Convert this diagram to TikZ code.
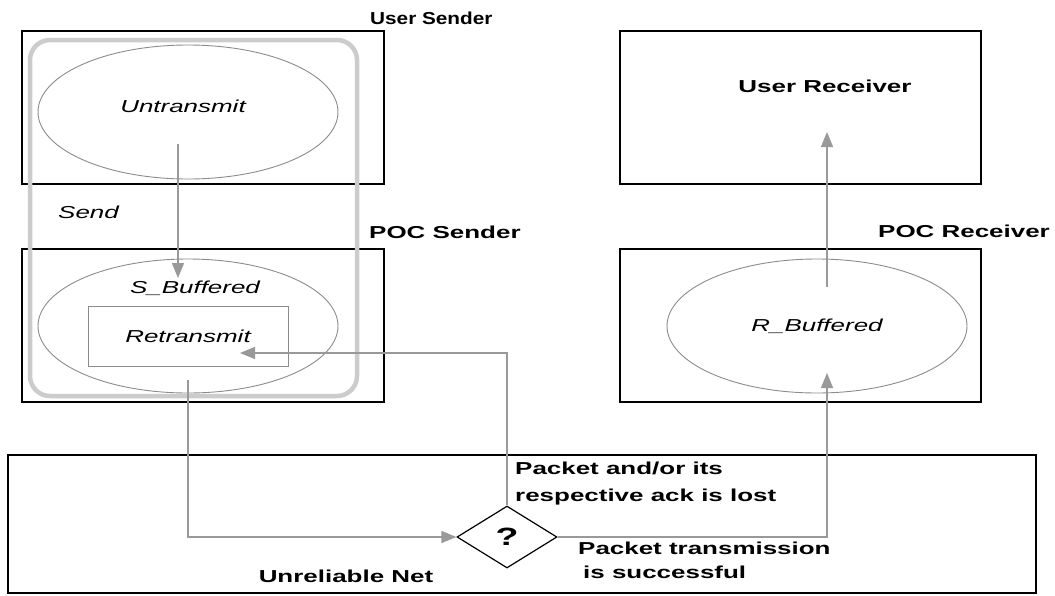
\documentclass[tikz,border=0pt]{standalone}
\usepackage{fontspec}
\setmainfont{Liberation Sans}[FakeStretch=1.5]
\newfontfamily\narrowsans{Liberation Sans}[FakeStretch=1.2]
\usepackage{tikz}
\usetikzlibrary{arrows.meta,shapes.geometric,calc}
\definecolor{edgegray}{gray}{0.55}
\definecolor{flowgray}{gray}{0.6}
\definecolor{groupgray}{gray}{0.8}
\newcommand\lblsize{\fontsize{17.3}{26}\selectfont}

\begin{document}
\begin{tikzpicture}[x=1pt,y=-1pt,
    layer box/.style={draw=black,line width=1.5pt,inner sep=0pt,minimum width=362pt,minimum height=153pt},
    state/.style={ellipse,draw=edgegray,line width=0.9pt,inner sep=0pt,minimum width=300pt,minimum height=134pt,font=\lblsize\itshape},
    flow/.style={draw=flowgray,line width=1.3pt,-{Triangle[length=15pt,width=12pt]}},
    bold label/.style={inner sep=0pt,font=\lblsize\bfseries},
    italic label/.style={inner sep=0pt,font=\lblsize\itshape}]
  \fill[white] (0,0) rectangle (1055,595);

  \node[layer box] (usnd) at (203,107.5) {};
  \node[layer box] (psnd) at (203,325.5) {};
  \node[layer box,minimum width=361pt] (urcv) at (800.5,107.5) {};
  \node[layer box,minimum width=361pt] (prcv) at (800.5,325.5) {};
  \node[layer box,minimum width=1028pt,minimum height=138pt] (unet) at (522,524) {};
  \node[draw=groupgray,line width=4.5pt,rounded corners=20pt,minimum width=327pt,minimum height=356pt] (grp) at (193.5,218) {};

  \node[state] (untx) at (188,112) {};
  \node[state] (sbuf) at (188,326) {};
  \node[state] (rbuf) at (817,326) {R\_Buffered};
  \node[draw=edgegray,line width=1pt,inner sep=0pt,minimum width=200pt,minimum height=60pt,font=\lblsize\itshape] (retx) at (188,336) {Retransmit};
  \node[diamond,draw=black,line width=1.2pt,inner sep=0pt,minimum width=100pt,minimum height=62pt,font=\fontsize{25}{30}\selectfont\bfseries] (chk) at (507,537) {?};

  \node[bold label,font=\lblsize\narrowsans\bfseries,anchor=base west] (usndlbl) at (370,24) {User Sender};
  \node[bold label,anchor=base west] (psndlbl) at (369,238) {POC Sender};
  \node[bold label,anchor=base] (urcvlbl) at (825,92) {User Receiver};
  \node[bold label,anchor=base west] (prcvlbl) at (878,237) {POC Receiver};
  \node[italic label,anchor=base west] (sendlbl) at (58,218) {Send};
  \node[italic label,anchor=base] (untxlbl) at (183,112) {Untransmit};
  \node[italic label,anchor=base] (sbuflbl) at (195,293) {S\_Buffered};
  \node[bold label,anchor=base] (unetlbl) at (346,582) {Unreliable Net};
  \node[bold label,font=\fontsize{17.3}{27}\selectfont\bfseries,anchor=north west,align=left] (lostlbl) at (515,462) {Packet and/or its\\respective ack is lost};
  \node[bold label,font=\fontsize{17.3}{23.5}\selectfont\bfseries,anchor=north west,align=left] (oklbl) at (578,542) {Packet transmission\\\hspace*{5pt}is successful};

  \draw[flow] ($(untx.center)+(-10,32)$) -- ($(sbuf.center)+(-10,-48)$);
  \draw[flow] ($(sbuf.center)+(0,54)$) |- (chk.west);
  \draw[flow] (chk.north) |- ($(retx.center)+(52,17)$);
  \draw[flow] (chk.east) -| ($(rbuf.center)+(10,47)$);
  \draw[flow] ($(rbuf.center)+(10,-39)$) -- ($(urcv.center)+(26.5,24.5)$);
\end{tikzpicture}
\end{document}
